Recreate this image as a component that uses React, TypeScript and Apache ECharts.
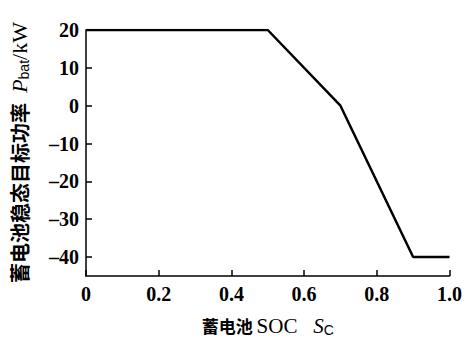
import React, { useEffect, useRef } from "react";
import * as echarts from "echarts";

const socValues = [0, 0.5, 0.7, 0.9, 1.0];
const powerValues = [20, 20, 0, -40, -40];
const yTicks = [-40, -30, -20, -10, 0, 10, 20];
const xTicks = [0, 0.2, 0.4, 0.6, 0.8, 1.0];

const serif = "'Liberation Serif', 'Times New Roman', serif";
const cjk = "'Noto Sans CJK SC', sans-serif";

export default function App() {
  const ref = useRef<HTMLDivElement>(null);
  useEffect(() => {
    if (!ref.current) return;
    const chart = echarts.init(ref.current, null, { renderer: "svg" });
    chart.setOption({
      animation: false,
      backgroundColor: "#fff",
      grid: { left: 82, right: 12, top: 30, bottom: 63 },
      xAxis: {
        type: "value",
        min: 0,
        max: 1,
        name: "{c|蓄电池 }{r|SOC   }{i|S}{sub|C}",
        nameLocation: "middle",
        nameGap: 38,
        nameTextStyle: {
          rich: {
            c: { fontFamily: cjk, fontWeight: "bold", fontSize: 17, color: "#000" },
            r: { fontFamily: serif, fontSize: 21, color: "#000" },
            i: { fontFamily: serif, fontStyle: "italic", fontSize: 21, color: "#000" },
            sub: { fontFamily: "'Liberation Sans', sans-serif", fontSize: 14, color: "#000", padding: [9, 0, 0, 0] },
          },
        },
        axisLine: { onZero: false, lineStyle: { color: "#000", width: 1.5 } },
        axisTick: { inside: true, length: 6, customValues: xTicks, lineStyle: { color: "#000", width: 1.5 } },
        axisLabel: {
          customValues: xTicks,
          formatter: (v: number) => (v === 0 ? "0" : v.toFixed(1)),
          fontFamily: serif,
          fontWeight: "bold",
          fontSize: 20,
          color: "#000",
          margin: 8,
        },
        splitLine: { show: false },
      },
      yAxis: {
        type: "value",
        min: -45,
        max: 20,
        name: "{c|蓄电池稳态目标功率  }{i|P}{sub|bat}{r|/kW}",
        nameLocation: "middle",
        nameGap: 55,
        nameRotate: 90,
        nameTextStyle: {
          rich: {
            c: { fontFamily: cjk, fontWeight: "bold", fontSize: 20, color: "#000", padding: [0, 1, 0, 1] },
            r: { fontFamily: serif, fontSize: 22, color: "#000" },
            i: { fontFamily: serif, fontStyle: "italic", fontSize: 22, color: "#000" },
            sub: { fontFamily: "'Liberation Sans', sans-serif", fontSize: 14, color: "#000", padding: [10, 0, 0, 0] },
          },
        },
        axisLine: { show: true, lineStyle: { color: "#000", width: 1.5 } },
        axisTick: { show: true, inside: true, length: 6, customValues: yTicks, lineStyle: { color: "#000", width: 1.5 } },
        axisLabel: {
          customValues: yTicks,
          formatter: (v: number) => (v < 0 ? "\u2013" + Math.abs(v) : String(v)),
          fontFamily: serif,
          fontWeight: "bold",
          fontSize: 20,
          color: "#000",
          margin: 7,
        },
        splitLine: { show: false },
      },
      series: [
        {
          type: "line",
          data: socValues.map((x, i) => [x, powerValues[i]]),
          showSymbol: false,
          lineStyle: { color: "#000", width: 2.5 },
        },
      ],
    });
    return () => chart.dispose();
  }, []);
  return (
    <div style={{ position: "fixed", left: 0, top: 0, width: 465, height: 342, overflow: "hidden", background: "#fff" }}>
      <div ref={ref} style={{ width: 465, height: 342 }} />
    </div>
  );
}
